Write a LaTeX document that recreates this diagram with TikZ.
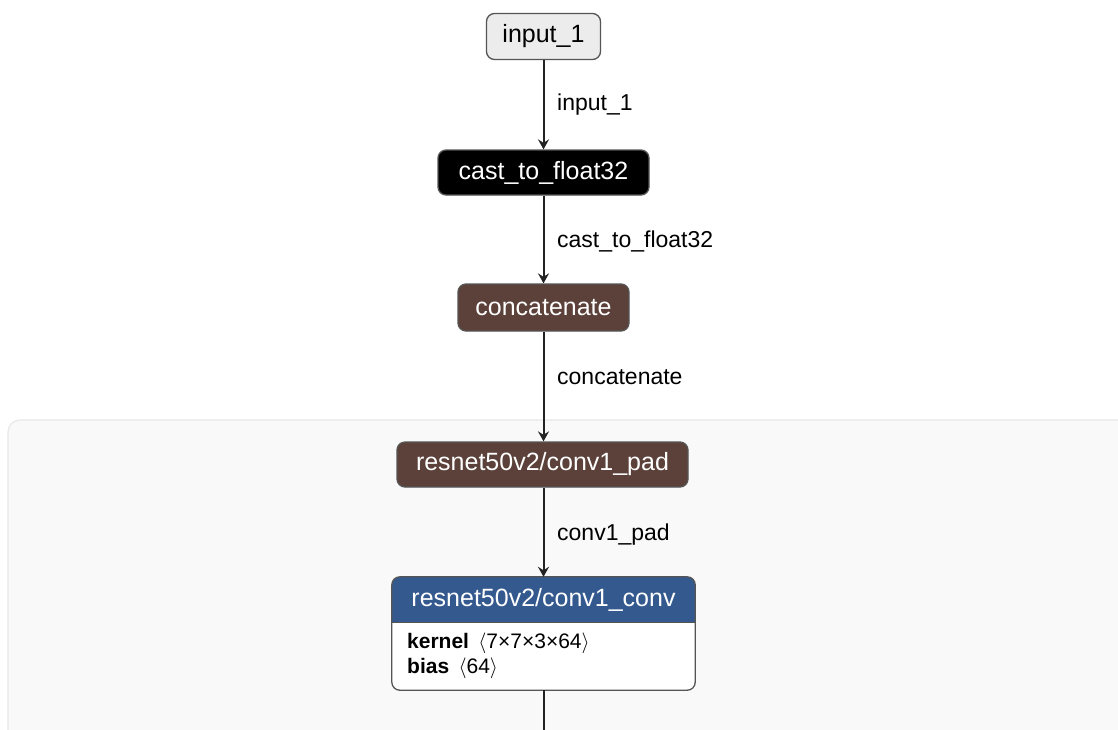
\documentclass[tikz,border=0pt]{standalone}
\usepackage{fontspec}
\setmainfont{Liberation Sans}
\usetikzlibrary{arrows.meta}
\definecolor{panelfill}{HTML}{F9F9F9}
\definecolor{panelline}{HTML}{E8E8E8}
\definecolor{inputfill}{HTML}{ECECEC}
\definecolor{layerbrown}{HTML}{5B4139}
\definecolor{convblue}{HTML}{34598E}
\definecolor{edgecol}{HTML}{222222}
\definecolor{boxline}{HTML}{555555}
\tikzset{
  layer/.style={rectangle, rounded corners=8pt, line width=1.3pt, inner sep=0pt,
    font=\fontsize{25}{30}\selectfont},
  inputbox/.style={layer, draw=boxline, fill=inputfill, text=black},
  darkbox/.style={layer, draw=boxline, fill=black, text=white},
  brownbox/.style={layer, draw=boxline, fill=layerbrown, text=white},
  flow/.style={draw=edgecol, line width=2pt, -{Stealth[length=10pt,width=11pt,inset=3.5pt]}},
  edgelabel/.style={anchor=west, inner sep=0pt, font=\fontsize{23}{28}\selectfont},
  attr/.style={anchor=west, inner sep=0pt, font=\fontsize{21}{25}\selectfont},
}
\begin{document}
\begin{tikzpicture}[x=1pt,y=-1pt]
\useasboundingbox (0,0) rectangle (1118,729);
\begin{scope}
\clip (0,0) rectangle (1118,729);
\fill[white] (0,0) rectangle (1118,729);
% model group panel
\draw[panelline, fill=panelfill, line width=1.2pt, rounded corners=12pt]
  (8,420) rectangle (1160,780);

% layers
\node[inputbox, minimum width=114pt, minimum height=46pt] (in) at (543.5,36.5) {input\_1};
\node[darkbox, minimum width=211pt, minimum height=45pt] (cast) at (543.5,172.5) {cast\_to\_float32};
\node[brownbox, minimum width=171pt, minimum height=47pt] (cat) at (543.5,307.5) {concatenate};
\node[brownbox, minimum width=291pt, minimum height=45pt] (pad) at (542.5,464.5) {resnet50v2/conv1\_pad};

% convolution layer with attribute table
\node[rectangle, rounded corners=8pt, fill=white, inner sep=0pt,
      minimum width=303pt, minimum height=113pt] (conv) at (543.5,633.5) {};
\path[fill=convblue] ([yshift=-46pt]conv.north west) [rounded corners=8pt]
  -- (conv.north west) -- (conv.north east) [sharp corners]
  -- ([yshift=-46pt]conv.north east) -- cycle;
\draw[boxline, line width=1.3pt] ([yshift=-46pt]conv.north west) -- ([yshift=-46pt]conv.north east);
\draw[boxline, line width=1.3pt, rounded corners=8pt]
  (conv.north west) rectangle (conv.south east);
\node[inner sep=0pt, text=white, font=\fontsize{25}{30}\selectfont] (convtitle)
  at ([yshift=-23pt]conv.north) {resnet50v2/conv1\_conv};
\node[attr] (kernel) at (407,643) {\textbf{kernel}\ \,$\langle$7×7×3×64$\rangle$};
\node[attr] (bias) at (407,668) {\textbf{bias}\ \,$\langle$64$\rangle$};

% connections
\coordinate (out) at (543.5,735);
\draw[flow] (in) -- (cast);
\draw[flow] (cast) -- (cat);
\draw[flow] (cat.south) -- (cat.south |- pad.north);
\draw[flow] (conv.north |- pad.south) -- (conv);
\draw[draw=edgecol, line width=2pt] (conv) -- (out);

% edge labels
\node[edgelabel] (l1) at (557,105) {input\_1};
\node[edgelabel] (l2) at (557,241) {cast\_to\_float32};
\node[edgelabel] (l3) at (557,377) {concatenate};
\node[edgelabel] (l4) at (557,535) {conv1\_pad};
\end{scope}
\end{tikzpicture}
\end{document}
